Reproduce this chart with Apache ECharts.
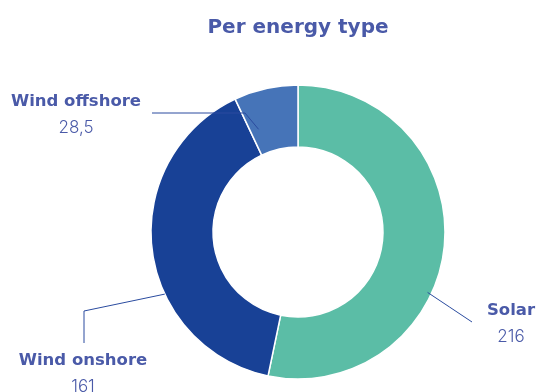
<!DOCTYPE html>
<html>
<head>
<meta charset="utf-8">
<script src="https://cdn.jsdelivr.net/npm/echarts@6/dist/echarts.min.js"></script>
<style>
  html, body { margin: 0; padding: 0; background: #fff; }
  #chart { width: 538px; height: 392px; }
</style>
</head>
<body>
<div id="chart"></div>
<script>
// Installed capacity split by energy type
const categories = ['Solar', 'Wind onshore', 'Wind offshore'];
const values = [216, 161, 28.5];
const colors = ['#5bbda6', '#184196', '#4674b8'];

const TEXT = '#4a5aa8';
const BOLD_FONT = 'DejaVu Sans';
const LIGHT_FONT = 'Inter';

// Leader-line geometry: start at a point on the ring (angle in degrees,
// counter-clockwise from 3 o'clock, radius in px), then a bend and an end point,
// with the label block placed below the end.
const leaders = [
  { angle: -25, r: 143, bend: null, end: [472, 322], label: [511, 298] },
  { angle: 205, r: 147, bend: [84, 311], end: [84, 343], label: [83, 348] },
  { angle: 111, r: 110, bend: [245, 113], end: [152, 113], label: [76, 89] }
];

const chart = echarts.init(document.getElementById('chart'), null, { renderer: 'canvas' });

const CX = 298, CY = 232;
const RADIUS = [85, 147];

const pieData = categories.map((name, i) => ({
  name, value: values[i], itemStyle: { color: colors[i] }
}));

const option = {
  animation: false,
  title: {
    text: 'Per energy type',
    left: CX - 5,
    top: 13,
    textAlign: 'center',
    textStyle: { color: TEXT, fontFamily: BOLD_FONT, fontWeight: 'bold', fontSize: 20 }
  },
  series: [{
    // the ring itself
    type: 'pie',
    center: [CX, CY],
    radius: RADIUS,
    startAngle: 90,
    clockwise: true,
    silent: true,
    itemStyle: { borderColor: '#fff', borderWidth: 1.5 },
    label: { show: false },
    labelLine: { show: false },
    data: pieData
  }, {
    // same slices, drawn transparent on top so leader lines overlay the ring
    type: 'pie',
    z: 3,
    center: [CX, CY],
    radius: RADIUS,
    startAngle: 90,
    clockwise: true,
    silent: true,
    avoidLabelOverlap: false,
    itemStyle: { color: 'rgba(0,0,0,0)', borderWidth: 0 },
    data: categories.map((name, i) => ({ name, value: values[i] })),
    label: {
      show: true,
      formatter: p => '{n|' + p.name + '}\n{v|' + String(p.value).replace('.', ',') + '}',
      rich: {
        n: { fontFamily: BOLD_FONT, fontWeight: 'bold', fontSize: 16.5, lineHeight: 26, color: TEXT, align: 'center' },
        v: { fontFamily: LIGHT_FONT, fontWeight: 300, fontSize: 17, lineHeight: 26, color: TEXT, align: 'center' }
      }
    },
    labelLine: { show: true, lineStyle: { color: '#2a4b9f', width: 1 } },
    labelLayout: function (params) {
      const L = leaders[params.dataIndex];
      const a = L.angle * Math.PI / 180;
      const start = [CX + L.r * Math.cos(a), CY - L.r * Math.sin(a)];
      const pts = L.bend ? [start, L.bend, L.end] : [start, [(start[0] + L.end[0]) / 2, (start[1] + L.end[1]) / 2], L.end];
      return {
        x: L.label[0],
        y: L.label[1],
        align: 'center',
        verticalAlign: 'top',
        labelLinePoints: pts
      };
    }
  }]
};

chart.setOption(option);
</script>
</body>
</html>
